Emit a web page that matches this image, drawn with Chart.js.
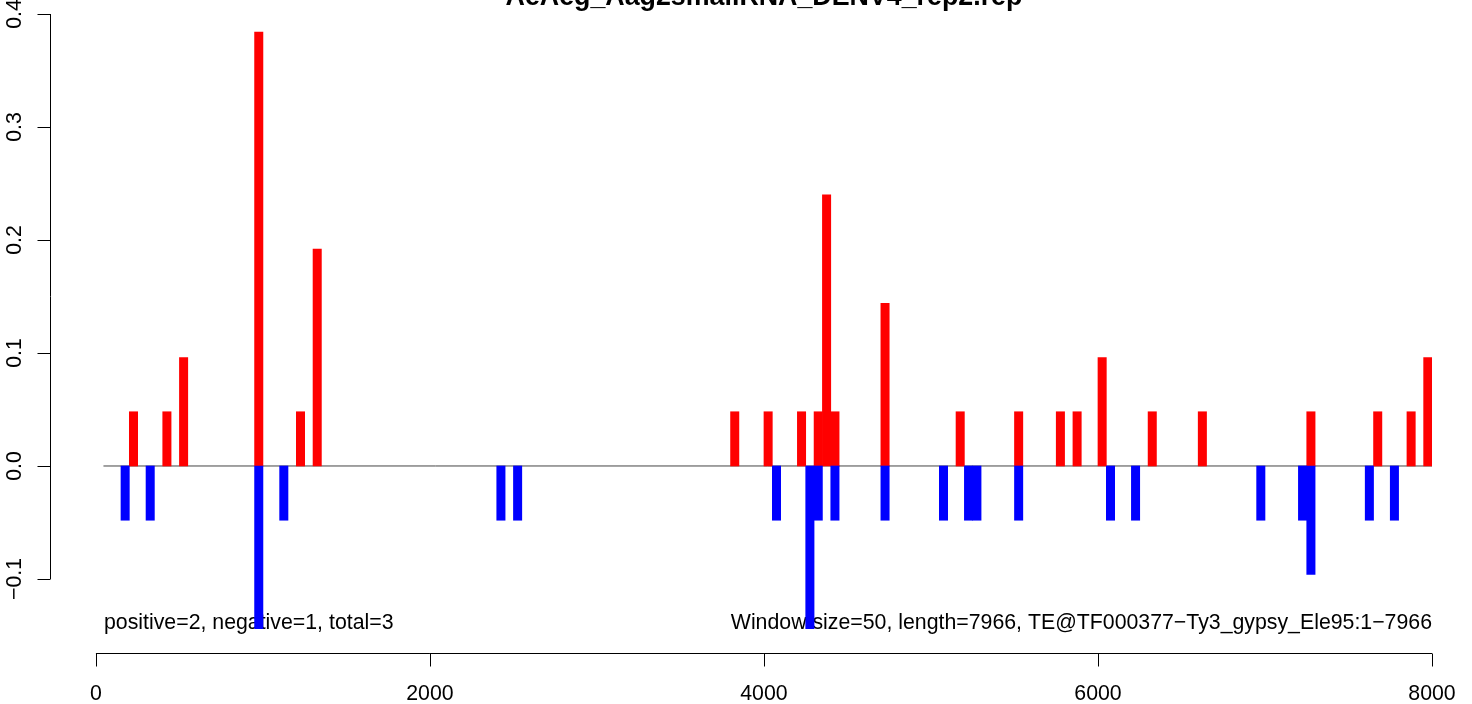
<!DOCTYPE html>
<html>
<head>
<meta charset="utf-8">
<script src="https://cdn.jsdelivr.net/npm/chart.js@4.4.1/dist/chart.umd.min.js"></script>
<style>
  html, body { margin: 0; padding: 0; background: #ffffff; }
  #wrap { width: 1472px; height: 704px; position: relative; }
</style>
</head>
<body>
<div id="wrap"><canvas id="c" width="1472" height="704"></canvas></div>
<script>
// ---- data ----
const windowSize = 50;
const posStarts = [200, 400, 500, 950, 1200, 1300, 3800, 4000, 4200, 4300, 4350, 4400, 4700, 5150, 5500, 5750, 5850, 6000, 6300, 6600, 7250, 7650, 7850, 7950];
const posValues = [0.048, 0.048, 0.096, 0.384, 0.048, 0.192, 0.048, 0.048, 0.048, 0.048, 0.24, 0.048, 0.144, 0.048, 0.048, 0.048, 0.048, 0.096, 0.048, 0.048, 0.048, 0.048, 0.048, 0.096];
const negStarts = [150, 300, 950, 1100, 2400, 2500, 4050, 4250, 4300, 4400, 4700, 5050, 5200, 5250, 5500, 6050, 6200, 6950, 7200, 7250, 7600, 7750];
const negValues = [-0.048, -0.048, -0.144, -0.048, -0.048, -0.048, -0.048, -0.144, -0.048, -0.048, -0.048, -0.048, -0.048, -0.048, -0.048, -0.048, -0.048, -0.048, -0.048, -0.096, -0.048, -0.048];
const zeroLineX = [45, 8000];
const xTicks = [0, 2000, 4000, 6000, 8000];
const xTickLabels = ["0", "2000", "4000", "6000", "8000"];
const yTicks = [-0.1, 0.0, 0.1, 0.2, 0.3, 0.4];
const yTickLabels = ["\u22120.1", "0.0", "0.1", "0.2", "0.3", "0.4"];
const titleText = "AeAeg_Aag2smallRNA_DENV4_rep2.rep";
const leftNote = "positive=2, negative=1, total=3";
const rightNote = "Window size=50, length=7966, TE@TF000377\u2212Ty3_gypsy_Ele95:1\u22127966";

// ---- build ----
const toBars = (starts, vals) => starts.map((s, i) => ({ x: s + windowSize / 2, y: vals[i] }));
const FONT = '"Liberation Sans", Arial, Helvetica, sans-serif';
const BASE = 21.3;
const TITLE_SIZE = 26.8;

const X_MIN = -275, X_MAX = 8000, Y_MIN = -0.1655, Y_MAX = 0.4;
const AREA_LEFT = 50, AREA_RIGHT = 1432;
const barPx = (AREA_RIGHT - AREA_LEFT) / (X_MAX - X_MIN) * windowSize;

const rAxes = {
  id: 'rAxes',
  beforeDatasetsDraw(chart) {
    const ctx = chart.ctx, xs = chart.scales.x;
    ctx.save();
    ctx.fillStyle = '#000';
    ctx.font = BASE + 'px ' + FONT;
    ctx.textBaseline = 'alphabetic';
    ctx.textAlign = 'left';
    ctx.fillText(leftNote, 104, 629);
    ctx.textAlign = 'right';
    ctx.fillText(rightNote, xs.getPixelForValue(8000), 629);
    ctx.restore();
  },
  afterDraw(chart) {
    const ctx = chart.ctx, xs = chart.scales.x, ys = chart.scales.y;
    ctx.save();
    ctx.strokeStyle = '#000';
    ctx.lineWidth = 1;
    ctx.fillStyle = '#000';
    // x axis
    const xy = Math.round(chart.chartArea.bottom) + 0.5;
    const x0 = xs.getPixelForValue(xTicks[0]), x1 = xs.getPixelForValue(xTicks[xTicks.length - 1]);
    ctx.beginPath();
    ctx.moveTo(x0, xy); ctx.lineTo(x1, xy);
    xTicks.forEach(v => { const p = Math.round(xs.getPixelForValue(v)) + 0.5; ctx.moveTo(p, xy); ctx.lineTo(p, xy + 13); });
    ctx.stroke();
    ctx.font = BASE + 'px ' + FONT;
    ctx.textAlign = 'center';
    ctx.textBaseline = 'alphabetic';
    xTicks.forEach((v, i) => ctx.fillText(xTickLabels[i], xs.getPixelForValue(v), 700));
    // y axis
    const yx = Math.round(chart.chartArea.left) + 0.5;
    const y0 = ys.getPixelForValue(yTicks[0]), y1 = ys.getPixelForValue(yTicks[yTicks.length - 1]);
    ctx.beginPath();
    ctx.moveTo(yx, y0); ctx.lineTo(yx, y1);
    yTicks.forEach(v => { const p = Math.round(ys.getPixelForValue(v)) + 0.5; ctx.moveTo(yx, p); ctx.lineTo(yx - 13, p); });
    ctx.stroke();
    yTicks.forEach((v, i) => {
      ctx.save();
      ctx.translate(21, ys.getPixelForValue(v));
      ctx.rotate(-Math.PI / 2);
      ctx.textAlign = 'center';
      ctx.fillText(yTickLabels[i], 0, 0);
      ctx.restore();
    });
    // title (cut at top)
    ctx.font = 'bold ' + TITLE_SIZE + 'px ' + FONT;
    ctx.textAlign = 'center';
    ctx.fillText(titleText, (x0 + x1) / 2, 5);
    ctx.restore();
  }
};

new Chart(document.getElementById('c'), {
  type: 'bar',
  data: {
    datasets: [
      { type: 'line', data: zeroLineX.map(x => ({ x, y: 0 })), borderColor: '#444444', borderWidth: 1, pointRadius: 0, order: 3 },
      { data: toBars(posStarts, posValues), backgroundColor: '#ff0000', borderWidth: 0, barThickness: barPx, grouped: false, order: 2 },
      { data: toBars(negStarts, negValues), backgroundColor: '#0000ff', borderWidth: 0, barThickness: barPx, grouped: false, order: 1 }
    ]
  },
  options: {
    responsive: false,
    animation: false,
    devicePixelRatio: 1,
    layout: { padding: { top: 14, right: 1472 - AREA_RIGHT, left: 0, bottom: 0 } },
    plugins: { legend: { display: false }, tooltip: { enabled: false }, title: { display: false } },
    scales: {
      x: {
        type: 'linear', min: X_MIN, max: X_MAX, offset: false,
        grid: { display: false }, border: { display: false },
        ticks: { display: false },
        afterFit: s => { s.height = 704 - 653; }
      },
      y: {
        type: 'linear', min: Y_MIN, max: Y_MAX,
        grid: { display: false }, border: { display: false },
        ticks: { display: false },
        afterFit: s => { s.width = AREA_LEFT; }
      }
    }
  },
  plugins: [rAxes]
});
</script>
</body>
</html>
